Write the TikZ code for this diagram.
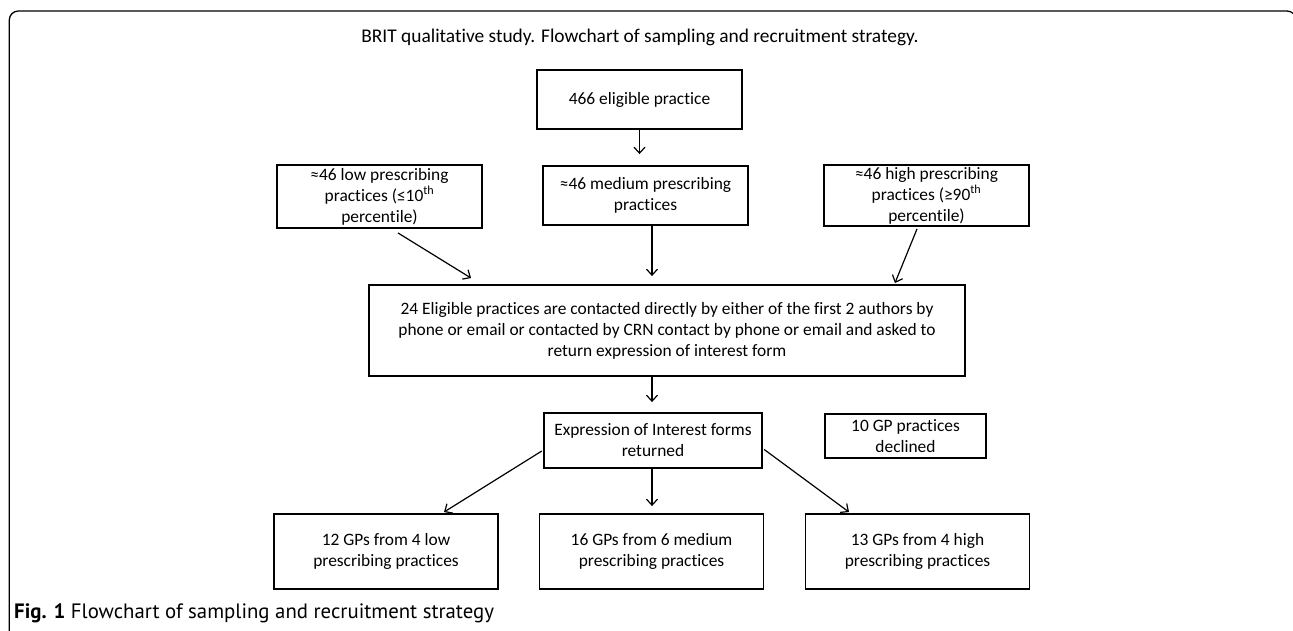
\documentclass[tikz,border=0pt]{standalone}
\usepackage{fontspec}
\setmainfont{Carlito}[RawFeature={-liga}]
\newfontfamily\capfont{PT Sans}
\usetikzlibrary{arrows.meta,calc}
\begin{document}
\begin{tikzpicture}[x=1pt,y=-1pt,
  box/.style={draw, line width=1.9pt, inner sep=0pt, align=center,
    font=\fontsize{17.4}{21}\selectfont},
  arr/.style={line width=1.2pt, -{Straight Barb[length=6pt,width=11pt,line width=1.2pt]}},
  frame/.style={line width=1.3pt, rounded corners=9pt}
]
\useasboundingbox (0,0) rectangle (1293,630);
\draw[frame] (9.3,660) -- (9.3,11) -- (1296,11) -- (1296,660);

\node[font=\fontsize{19.4}{23}\selectfont, inner sep=0pt] (title) at (640,37)
  {BRIT qualitative study. Flowchart of sampling and recruitment strategy.};

\node[box, minimum width=205pt, minimum height=59pt] (elig) at (639.5,99.5) {466 eligible practice};
\node[box, minimum width=205pt, minimum height=63pt] (low) at (379.5,196.5)
  {≈46 low prescribing\\practices (≤10\textsuperscript{th}\\percentile)};
\node[box, minimum width=205pt, minimum height=59pt] (med) at (645.5,195.5)
  {≈46 medium prescribing\\practices};
\node[box, minimum width=205pt, minimum height=61pt] (high) at (926.5,195.5)
  {≈46 high prescribing\\practices (≥90\textsuperscript{th}\\percentile)};
\node[box, minimum width=596pt, minimum height=91pt] (big) at (667,330.5)
  {24 Eligible practices are contacted directly by either of the first 2 authors by\\
   phone or email or contacted by CRN contact by phone or email and asked to\\
   return expression of interest form};
\node[box, minimum width=218.5pt, minimum height=55pt] (expr) at (653,440.5)
  {Expression of Interest forms\\returned};
\node[box, minimum width=161pt, minimum height=44pt] (decl) at (905.5,436)
  {10 GP practices\\declined};
\node[box, minimum width=224pt, minimum height=75pt] (g1) at (386,551.5)
  {12 GPs from 4 low\\prescribing practices};
\node[box, minimum width=224pt, minimum height=75pt] (g2) at (651.5,551.5)
  {16 GPs from 6 medium\\prescribing practices};
\node[box, minimum width=224pt, minimum height=75pt] (g3) at (917.5,551.5)
  {13 GPs from 4 high\\prescribing practices};

\node[anchor=base west, inner sep=0pt, font=\capfont\fontsize{20.8}{24}\selectfont] (cap) at (14,618)
  {\textbf{Fig. 1} Flowchart of sampling and recruitment strategy};

\draw[arr] (elig.south) -- ($(elig.south |- med.north)+(0,-11)$);
\draw[arr] ($(med.south)+(6.5,0)$) -- ($(med.south |- big.north)+(6.5,-8)$);
\draw[arr] ($(low.south)+(18.5,4)$) -- ($(big.north west)+(103,-6)$);
\draw[arr] ($(high.south)+(-9.5,2)$) -- ($(big.north east)+(-71,-1)$);
\draw[arr] ($(expr.north |- big.south)+(-1,0)$) -- ($(expr.north)+(-1,-10)$);
\draw[arr] ($(expr.west)+(-1,10.5)$) -- ($(g1.north)+(58,-1)$);
\draw[arr] ($(expr.south)+(-1,0)$) -- ($(g2.north)+(0.5,-7)$);
\draw[arr] ($(expr.east)+(1,9)$) -- ($(g3.north)+(-68.5,-1)$);
\end{tikzpicture}
\end{document}
